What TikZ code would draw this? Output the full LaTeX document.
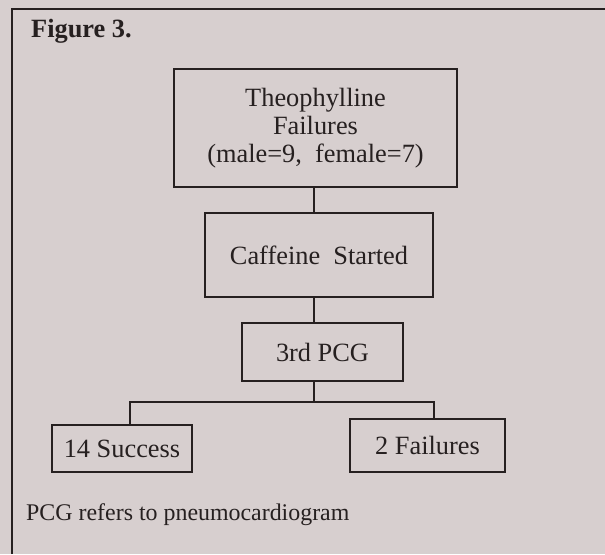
\documentclass[tikz,border=0pt]{standalone}
\usepackage{fontspec}
\setmainfont{Liberation Serif}
\definecolor{paper}{RGB}{215,207,207}
\definecolor{ink}{RGB}{38,32,32}
\tikzset{
  box/.style   = {draw=ink, line width=1.1pt, inner sep=0pt, align=center,
                  text=ink, font=\fontsize{15}{16}\selectfont},
  wire/.style  = {draw=ink, line width=1.1pt},
}
\begin{document}
\begin{tikzpicture}
  \fill[paper] (0,0) rectangle (12.1,-11.08);
  \useasboundingbox (0,0) rectangle (12.1,-11.08);
  % frame, open on the right and at the bottom
  \draw[wire] (0.24,-11.08) -- (0.24,-0.18) -- (12.1,-0.18);
  \node[anchor=base west, text=ink, font=\fontsize{15}{17}\selectfont\bfseries]
    (title) at (0.50,-0.74) {Figure 3.};

  \node[box, minimum width=5.66cm, minimum height=2.36cm] (theo) at (6.31,-2.56)
    {Theophylline\\Failures\\(male=9,~ female=7)};
  \node[box, minimum width=4.56cm, minimum height=1.68cm] (caff) at (6.38,-5.10)
    {Caffeine~ Started};
  \node[box, minimum width=3.22cm, minimum height=1.16cm] (pcg)  at (6.45,-7.04)
    {3rd PCG};
  \node[box, minimum width=2.80cm, minimum height=0.94cm] (succ) at (2.44,-8.97)
    {14 Success};
  \node[box, minimum width=3.10cm, minimum height=1.06cm] (fail) at (8.55,-8.91)
    {2 Failures};

  \coordinate (spine) at (6.28,0);
  \coordinate (split) at (6.28,-8.04);
  \draw[wire] (theo.south -| spine) -- (caff.north -| spine);
  \draw[wire] (caff.south -| spine) -- (pcg.north -| spine);
  \draw[wire] (pcg.south -| spine) -- (split);
  \draw[wire] (succ.north -| 2.60,0) |- (split) -| (fail.north -| 8.68,0);
% \draw[wire] (split) -- (6.28,-8.2);

  \node[anchor=base west, text=ink, font=\fontsize{13.6}{16}\selectfont]
    (note) at (0.40,-10.40) {PCG refers to pneumocardiogram};
\end{tikzpicture}
\end{document}
